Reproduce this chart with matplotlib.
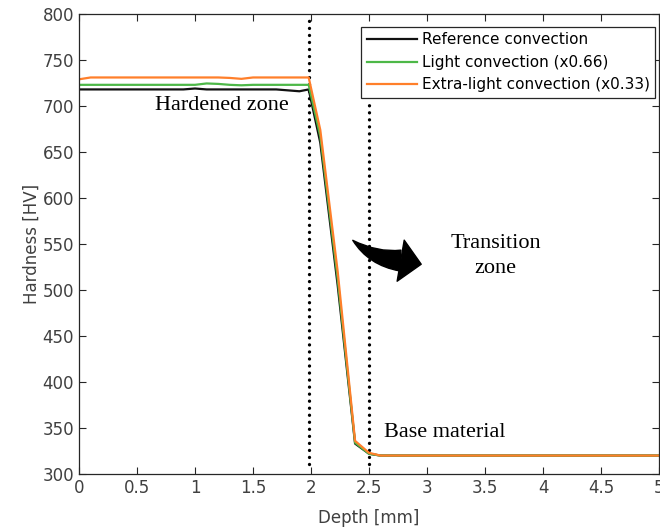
import numpy as np
import matplotlib.pyplot as plt
from matplotlib.patches import FancyArrowPatch

# depth [mm] and hardness [HV]
depth = [0.0, 0.1, 0.3, 0.6, 0.9, 1.0, 1.1, 1.2, 1.3, 1.4, 1.5, 1.7, 1.9, 1.98,
         2.08, 2.23, 2.38, 2.5, 2.6, 3.0, 3.5, 4.0, 4.5, 5.0]
hv_ref = [718, 718, 718, 718, 718, 719, 718, 718, 718, 718, 718, 718, 716, 718,
          660, 505, 333, 322, 320, 320, 320, 320, 320, 320]
hv_light = [723, 723, 723, 723, 723, 723, 724.5, 724, 723, 722.5, 723, 723, 723, 723,
            667, 512, 334, 322, 320, 320, 320, 320, 320, 320]
hv_xlight = [729, 731, 731, 731, 731, 731, 731, 731, 730.5, 729.5, 731, 731, 731, 731,
             674, 520, 336, 323, 320, 320, 320, 320, 320, 320]

labels = ['Reference convection', 'Light convection (x0.66)',
          'Extra-light convection (x0.33)']
colors = ['#111111', '#4db848', '#ff7f2a']

zone_lines = [1.98, 2.5]
zone_tops = [800, 703]

fig = plt.figure(figsize=(6.6, 5.28), dpi=100)
ax = fig.add_axes([0.1197, 0.1023, 0.8788, 0.8712])

for y, lab, c in zip([hv_ref, hv_light, hv_xlight], labels, colors):
    ax.plot(depth, y, color=c, lw=1.6, label=lab)

for xv, top in zip(zone_lines, zone_tops):
    ax.plot([xv, xv], [311, top], color='black', lw=2.4,
            ls=(0, (0.01, 2.1)), dash_capstyle='round', zorder=1)

ax.set_xlim(0, 5)
ax.set_ylim(300, 800)
ax.set_xticks(np.arange(0, 5.01, 0.5))
ax.set_xticklabels(['0', '0.5', '1', '1.5', '2', '2.5', '3', '3.5', '4', '4.5', '5'])
ax.set_yticks(np.arange(300, 801, 50))
ax.tick_params(direction='in', top=True, right=True, labelsize=12,
               colors='#262626', labelcolor='#404040', length=5, width=0.8)
for s in ax.spines.values():
    s.set_color('#262626')
    s.set_linewidth(0.9)

ax.set_xlabel('Depth [mm]', fontsize=12, color='#404040', labelpad=8.5)
ax.set_ylabel('Hardness [HV]', fontsize=12, color='#404040', labelpad=1)

serif = 'Liberation Serif'
ax.text(0.655, 701, 'Hardened zone', family=serif, fontsize=16, va='center', ha='left')
ax.text(3.59, 537, 'Transition\nzone', family=serif, fontsize=16, va='center',
        ha='center', linespacing=1.4)
ax.text(2.63, 345, 'Base material', family=serif, fontsize=16, va='center', ha='left')

# curved arrow: pointed tail widening towards the head
body = FancyArrowPatch((2.77, 532), (2.36, 554),
                       connectionstyle='arc3,rad=-0.18',
                       arrowstyle='wedge,tail_width=0.5,shrink_factor=0.6',
                       mutation_scale=30, color='black', shrinkA=0, shrinkB=0)
ax.add_patch(body)
head = FancyArrowPatch((2.72, 533), (2.95, 528),
                       arrowstyle='simple,head_length=0.5,head_width=1.0,tail_width=0.05',
                       mutation_scale=30, color='black', shrinkA=0, shrinkB=0)
ax.add_patch(head)

leg = ax.legend(loc='upper right', bbox_to_anchor=(0.993, 0.972), fontsize=11,
                handlelength=3.3, labelspacing=0.5, borderpad=0.35,
                handletextpad=0.3, fancybox=False, framealpha=1, borderaxespad=0)
leg.get_frame().set_edgecolor('#262626')
leg.get_frame().set_linewidth(0.9)

fig.savefig('out.png', dpi=100)
